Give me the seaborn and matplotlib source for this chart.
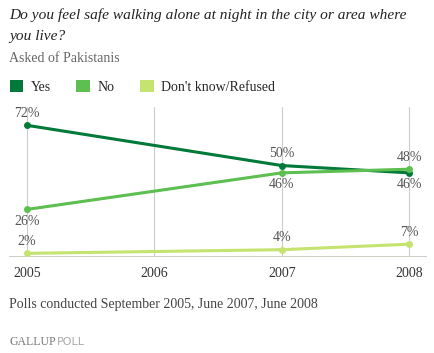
import matplotlib
matplotlib.use("Agg")
import matplotlib.pyplot as plt
import seaborn as sns
import pandas as pd
from matplotlib.patches import Patch

years = [2005, 2007, 2008]
yes = [72, 50, 46]
no = [26, 46, 48]
dk = [2, 4, 7]
series_names = ["Yes", "No", "Don't know/Refused"]
colors = ["#00793a", "#5cbf4f", "#c4e36f"]
tick_years = [2005, 2006, 2007, 2008]

df = pd.DataFrame({
    "year": years * 3,
    "pct": yes + no + dk,
    "series": [s for s in series_names for _ in years],
})

sns.set_style("white")
plt.rcParams["font.family"] = ["Liberation Serif", "DejaVu Serif"]

fig = plt.figure(figsize=(4.34, 3.53), dpi=100)
W, H = 434, 353
ax = fig.add_axes([9 / W, 1 - 257 / H, (427 - 9) / W, (257 - 107) / H])

for x in tick_years:
    ax.axvline(x, color="#cccccc", lw=0.8, zorder=0)

sns.lineplot(data=df, x="year", y="pct", hue="series", palette=colors,
             hue_order=series_names, marker="o", markersize=5,
             markeredgewidth=0, linewidth=2.2, legend=False, ax=ax)

ax.set_xlim(2004.86, 2008.14)
ax.set_ylim(0, 82)
ax.axhline(0, color="#c8c8c0", lw=2, zorder=1)
for s in ax.spines.values():
    s.set_visible(False)
ax.set_yticks([])
ax.set_xticks(tick_years)
ax.set_xticklabels([str(t) for t in tick_years], fontsize=10, color="#333333")
ax.tick_params(axis="x", length=0, pad=7)
ax.set_xlabel("")
ax.set_ylabel("")

lab_kw = dict(ha="center", fontsize=10, color="#555555")
# label placement: above or below each point
placement = {
    "Yes": ["above", "above", "below"],
    "No": ["below", "below", "above"],
    "Don't know/Refused": ["above", "above", "above"],
}
for name, vals in zip(series_names, [yes, no, dk]):
    for x, v, p in zip(years, vals, placement[name]):
        if p == "above":
            ax.annotate(f"{v}%", (x, v), xytext=(0, 4), textcoords="offset points",
                        va="bottom", **lab_kw)
        else:
            ax.annotate(f"{v}%", (x, v), xytext=(0, -4), textcoords="offset points",
                        va="top", **lab_kw)

fig.text(9 / W, 1 - 19 / H, "Do you feel safe walking alone at night in the city or area where",
         fontsize=11.1, style="italic", color="#222222")
fig.text(9 / W, 1 - 40 / H, "you live?", fontsize=11.1, style="italic", color="#222222")
fig.text(9 / W, 1 - 62 / H, "Asked of Pakistanis", fontsize=10, color="#666666")

handles = [Patch(facecolor=c, edgecolor="none") for c in colors]
fig.legend(handles, series_names, loc="upper left", bbox_to_anchor=(4 / W, 1 - 74 / H),
           ncol=3, frameon=False, fontsize=10, handlelength=1.0, handleheight=1.0,
           handletextpad=0.5, columnspacing=1.85, borderaxespad=0)

fig.text(9 / W, 1 - 308 / H, "Polls conducted September 2005, June 2007, June 2008",
         fontsize=10, color="#444444")
fig.text(9 / W, 1 - 345 / H, "GALLUP", fontsize=8.5, color="#777777")
fig.text(57 / W, 1 - 345 / H, "POLL", fontsize=8, color="#aaaaaa",
         family=["DejaVu Sans"])

fig.savefig("out.png", dpi=100)
